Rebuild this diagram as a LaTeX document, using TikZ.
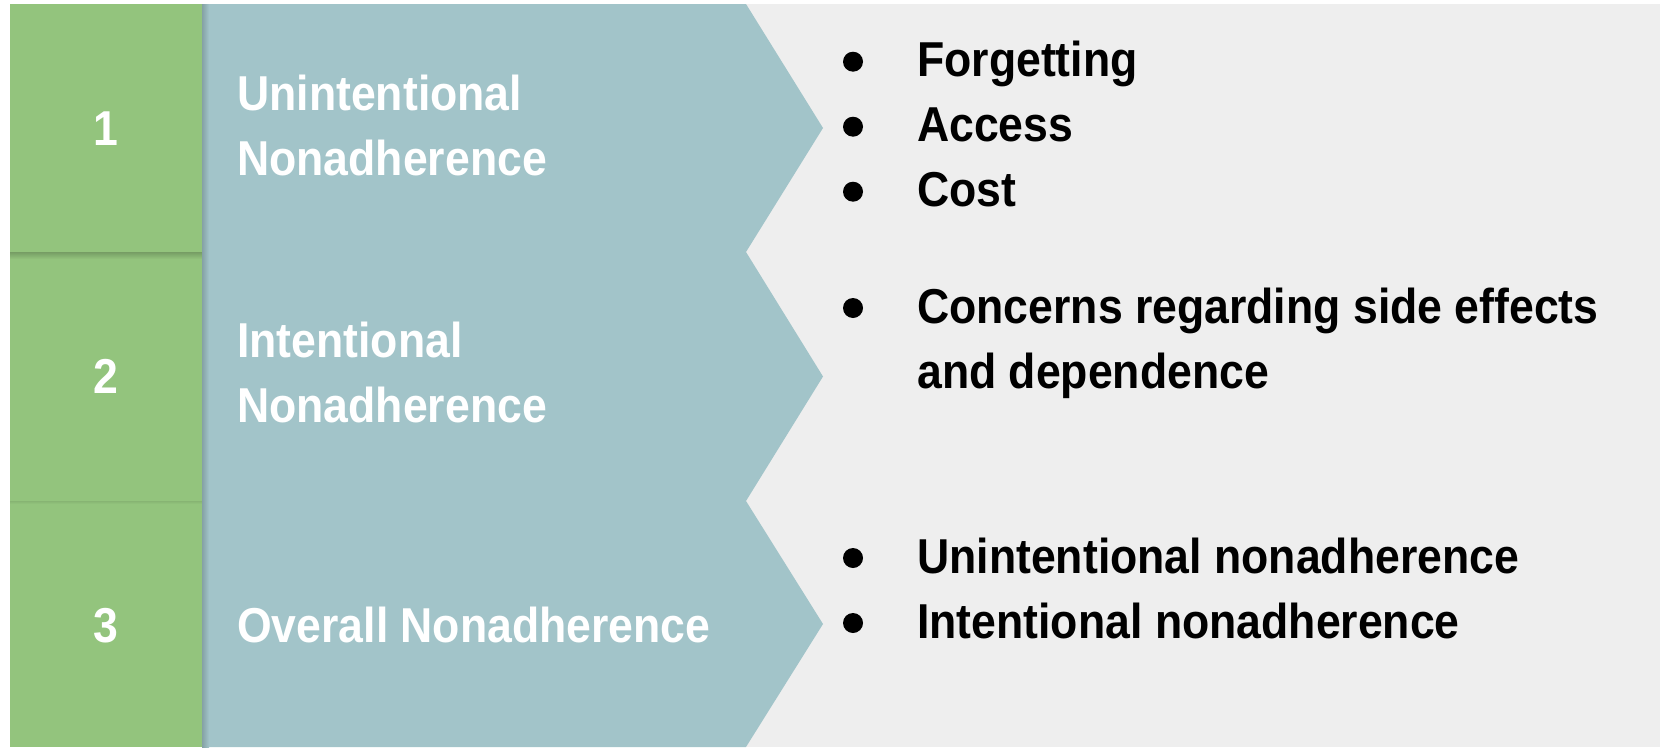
\documentclass[tikz,border=0pt]{standalone}
\usepackage{fontspec}
\setmainfont{Liberation Sans}[FakeStretch=0.91]
\definecolor{cgreen}{HTML}{93C47D}
\definecolor{cblue}{HTML}{A2C4C9}
\definecolor{cgray}{HTML}{EEEEEE}
\tikzset{
  txt/.style={inner sep=0pt, anchor=base west, font=\fontsize{49}{65}\selectfont\bfseries},
  wtxt/.style={txt, text=white},
  btxt/.style={txt, text=black},
  num/.style={inner sep=0pt, anchor=base, text=white, font=\fontsize{49}{65}\selectfont\bfseries},
  dot/.style={circle, fill=black, inner sep=0pt, minimum size=20pt},
}
\begin{document}
\begin{tikzpicture}[x=1pt,y=-1pt]
\useasboundingbox (0,0) rectangle (1660,747);
\fill[white] (0,0) rectangle (1660,747);
% gray panel
\fill[cgray] (700,4) rectangle (1660,747);
% green cells
\fill[cgreen] (10,4) rectangle (202,252);
\fill[cgreen] (10,252) rectangle (202,501);
\fill[cgreen] (10,501) rectangle (202,747);
% soft shadows under green cells
\shade[top color=cgreen!80!black, bottom color=cgreen] (10,252) rectangle (202,259);
\shade[top color=cgreen!92!black, bottom color=cgreen] (10,501) rectangle (202,504);
% chevrons
\fill[cblue] (202,4) -- (746,4) -- (823,128) -- (746,252) -- (202,252) -- cycle;
\fill[cblue] (202,252) -- (746,252) -- (823,376.5) -- (746,501) -- (202,501) -- cycle;
\fill[cblue] (202,501) -- (746,501) -- (823,624) -- (746,747) -- (202,747) -- cycle;
% soft shadow on the left edge of the chevrons
\shade[left color=cblue!82!black, right color=cblue] (202,4) rectangle (209,747);
% numbers
\node[num] (n1) at (106,145) {1};
\node[num] (n2) at (106,393.5) {2};
\node[num] (n3) at (106,642) {3};
% titles
\node[wtxt] (t1a) at (237,110) {Unintentional};
\node[wtxt] (t1b) at (237,175) {Nonadherence};
\node[wtxt] (t2a) at (237,357) {Intentional};
\node[wtxt] (t2b) at (237,422) {Nonadherence};
\node[wtxt] (t3a) at (237,642) {Overall Nonadherence};
% bullets row 1
\node[dot] (d1a) at (853,61.7) {};
\node[btxt] (b1a) at (917,76.7) {Forgetting};
\node[dot] (d1b) at (853,126.7) {};
\node[btxt] (b1b) at (917,141.7) {Access};
\node[dot] (d1c) at (853,191.7) {};
\node[btxt] (b1c) at (917,206.7) {Cost};
% bullets row 2
\node[dot] (d2a) at (853,308) {};
\node[btxt] (b2a) at (917,323) {Concerns regarding side effects};
\node[btxt] (b2b) at (917,388) {and dependence};
% bullets row 3
\node[dot] (d3a) at (853,558) {};
\node[btxt] (b3a) at (917,573) {Unintentional nonadherence};
\node[dot] (d3b) at (853,623) {};
\node[btxt] (b3b) at (917,638) {Intentional nonadherence};
\end{tikzpicture}
\end{document}
